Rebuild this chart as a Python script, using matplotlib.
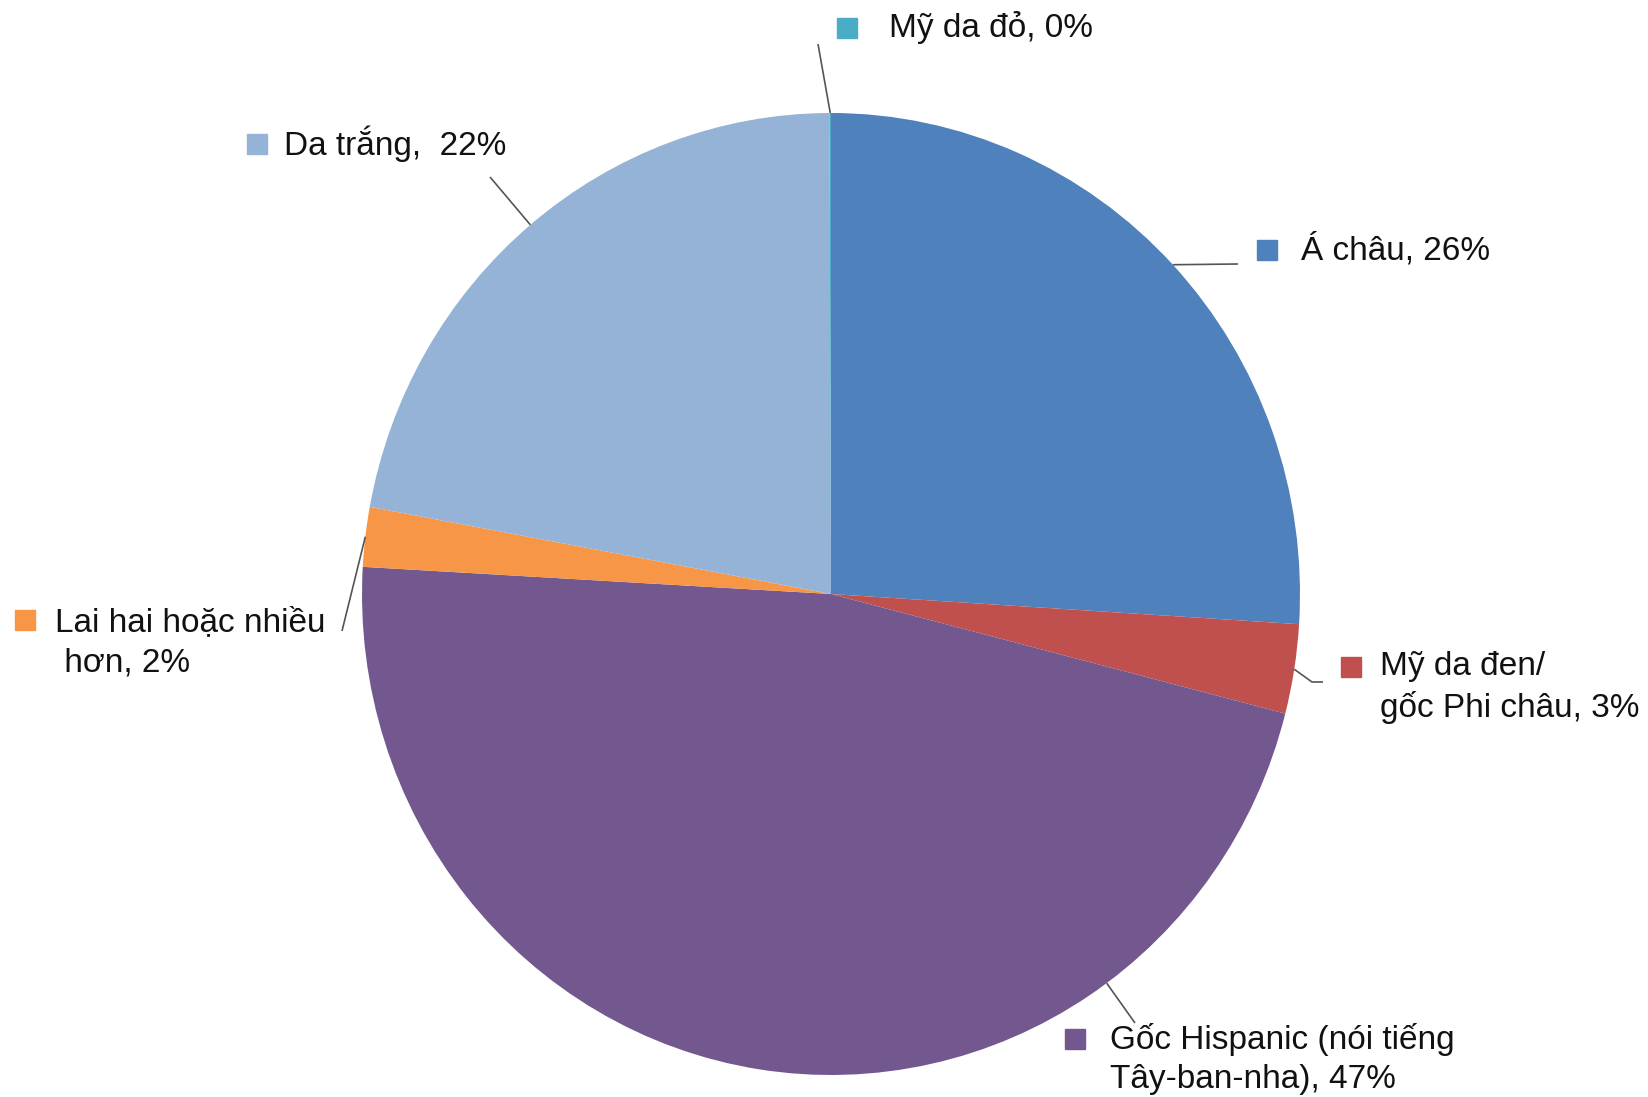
import matplotlib
matplotlib.use("Agg")
import matplotlib.pyplot as plt
import numpy as np

plt.rcParams['font.family'] = ['Liberation Sans', 'DejaVu Sans']

# data (clockwise from the top)
groups = ["Á châu, 26%", "Mỹ da đen/\ngốc Phi châu, 3%",
          "Gốc Hispanic (nói tiếng\nTây-ban-nha), 47%",
          "Lai hai hoặc nhiều\n hơn, 2%", "Da trắng,  22%", "Mỹ da đỏ, 0%"]
shares = [26.0, 3.0, 46.9, 2.0, 22.05, 0.05]
colors = ["#4F81BD", "#C0504D", "#72588F", "#F79646", "#95B3D7", "#4BACC6"]

# layout in pixels of the 1649x1097 canvas
W, H = 1649, 1097
cx, cy = 831, 594          # pie centre
rx, ry = 469, 481          # pie radii (slightly tall)
square_xy = [(1267, 250), (1351, 667), (1075, 1039), (25, 620), (257, 144), (847, 28)]
text_xy = [(1301, 250), (1380, 667), (1110, 1039), (55, 623), (284, 144), (889, 28)]
leader_end = [[(1238, 264)], [(1312, 682), (1323, 682)], [(1135, 1023)],
              [(342, 631)], [(490, 177)], [(818, 44)]]
leader_angle = [None, None, 144.0, None, None, None]   # degrees clockwise from top
line_gap = 40.5


def to_data(px, py):
    return (px - cx) / rx, (cy - py) / ry


fig = plt.figure(figsize=(W / 100, H / 100), dpi=100)
ax = fig.add_axes([0, 0, 1, 1])
wedges, _ = ax.pie(shares, colors=colors, startangle=90, counterclock=False,
                   radius=1, center=(0, 0),
                   wedgeprops=dict(linewidth=0))
ax.set_aspect('auto')
ax.set_xlim(-cx / rx, (W - cx) / rx)
ax.set_ylim(-(H - cy) / ry, cy / ry)
ax.axis('off')

for i, w in enumerate(wedges):
    if leader_angle[i] is None:
        ang = np.deg2rad((w.theta1 + w.theta2) / 2)
        sx, sy = np.cos(ang), np.sin(ang)
    else:
        a = np.deg2rad(leader_angle[i])
        sx, sy = np.sin(a), np.cos(a)
    pts = [(sx, sy)] + [to_data(*p) for p in leader_end[i]]
    xs, ys = zip(*pts)
    ax.plot(xs, ys, color='#555555', lw=1.2, solid_capstyle='butt')

    mx, my = to_data(*square_xy[i])
    ax.plot(mx, my, marker='s', ms=15, color=colors[i], mec=colors[i])

    tx, ty = text_xy[i]
    for k, line in enumerate(groups[i].split('\n')):
        x, y = to_data(tx, ty + k * line_gap)
        ax.text(x, y, line, fontsize=24, color='#111111', ha='left', va='center')

fig.savefig("out.png", dpi=100, facecolor='white')
